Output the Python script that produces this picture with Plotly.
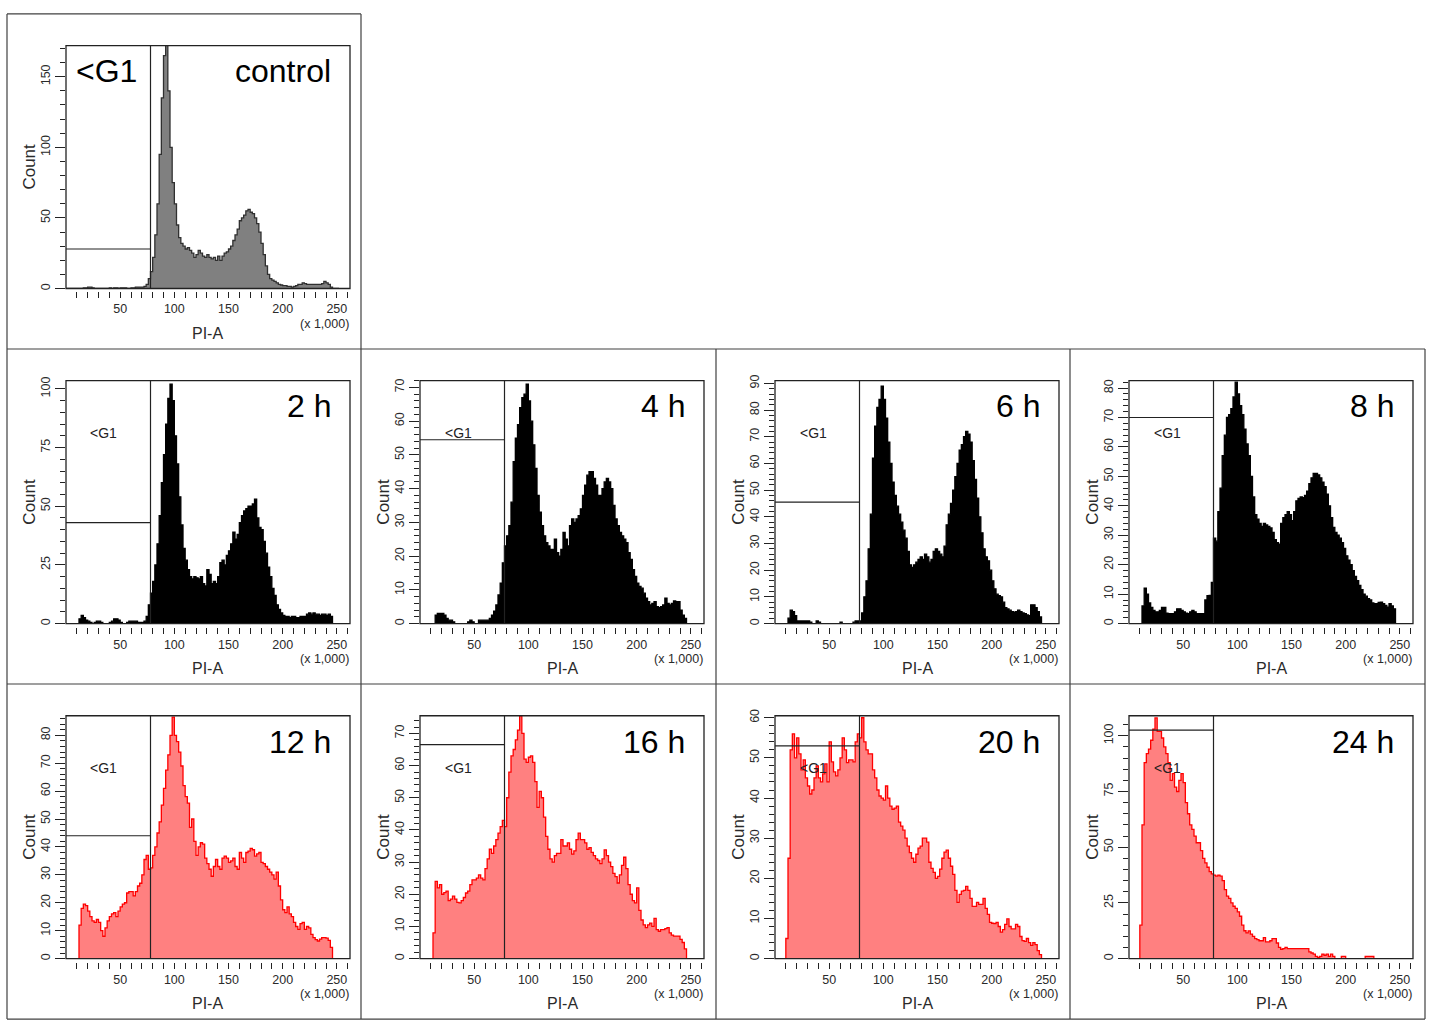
import plotly.graph_objects as go

W, H = 1431, 1028

# ---------------- data (counts per 2k-wide PI-A bin, x in thousands) ----------------
bin_left = list(range(0, 252, 2))  # 0,2,...,250

control = [0,0,0,0,0,0,0,0,0.5,0.5,
           1,1,0.5,0,0,0,0,0,0,0,
           0.5,0,0.5,0.5,0,0.5,0.5,0.5,0,0,
           0.5,0.5,1,1,1,1,1.5,3,7,12,
           22,38,60,95,135,165,178,140,100,75,
           60,45,36,32,30,28,29,27,25,22,
           24,27,25,23,22,24,22,21,22,20,
           23,20,23,25,26,28,30,34,38,42,
           48,50,52,55,56,54,53,50,46,40,
           32,24,16,10,7,6,5,4,3,2.5,
           2,2,1.5,1.5,1,1.5,2,3,3,4,
           3.5,3,3,3,3,3,3,3,3.5,5,
           4,3,1,0,0,0]

h2 = [0,0,0,0,0,0,2,3.5,2.5,1.5,
      1,0.5,0,0.5,1,1,0.5,0,0,0,
      0.5,1,2,2,1.5,0.5,0,0,0.5,1,
      1,1,1,0.5,0.5,0.5,1,3,8,13,
      18,25,34,46,60,72,85,96,102,95,
      80,68,54,42,32,27,23,20,19,20,
      19.5,19,20,17,16,23,21,17,18,17,
      20,26,27,25,29,31,34,39,36,38,
      43,46,48,49,50,50,51,53,45,41,
      40,35,30,24,20,15,12,8,6,4.5,
      3.5,3,3,2.5,3,3,2.5,2.5,3,3,
      3,4,4.5,4,4.5,4,4,3.5,4,4,
      3.5,4,3,0,0,0]

h4 = [0,0,0,0,0,0,0,2.5,3,3,
      3,2.5,1.5,1,1,0.5,0,0,0,0,
      0,0,0.5,1,0.5,0,0,1,1,1,
      1,1,1.5,2.5,3.7,5.5,8.5,12,18,23,
      26,29,36,48,55,59,64,67,68,71,
      66,60,53,46,38,33,29,26,24,23,
      22,22,25,21,20,22,27,25,23,29,
      31,30,31,32,34,38,41,44,45,45,
      43,41,38,38,40,42,43,42,40,35,
      31,29,27,26,25,24,21,19,16,14,
      12,11,10.5,9,7.5,6.5,5.5,6,6.5,5,
      4.7,5,5.5,7.5,6,5.5,6,6.7,6.5,6.5,
      4,2.5,1.5,0,0,0]

h6 = [0,0,0,0,0,0,2,5,4.5,3,
      1,1,1,1,1,1,0.5,0,0,1,
      0.5,0,0,0,0,0,0,0,0,0,
      0.5,0,0,0,0,0,0.5,1,1,1,
      4,10,16,28,41,62,74,81,84,89,
      84,77,68,60,53,48,44,41,38,35,
      32,27,22,21,22,23,24,25,24,26,
      25,23,24,27,28,27,26,25,29,37,
      41,45,50,55,60,65,67,70,72,71,
      68,61,54,47,40,34,28,25,23.5,20,
      16,13,11,10.5,10,8,6,5.5,5,4.5,
      4.3,4.5,5,4.5,4,3.7,3.2,3,7,7,
      6,4.5,2.5,0,0,0]

h8 = [0,0,0,0,0,0,6,12,10,7,
      5.5,4.5,4,4,4.5,5.5,5.5,3.5,3.4,3.4,
      3.4,4,5,5,4.5,4,3.5,3.4,4,4.5,
      4,3.4,3.4,3.4,3.4,8,9.5,9.6,14,29,
      28,38,46,57,64,70,71,73,77,82,
      78,74,71,66,61,57,50,43,37,35.5,
      34,33,34,33.5,33,32.5,31,28.5,27.5,27,
      34,36,37,38,37,35,38,41.7,42.5,43,
      42.8,43.5,45,47.5,49.5,51,51,50.5,49.5,48,
      46.5,44,40,36,32.7,31,30,29,27.5,25.5,
      23,21.5,20,18,16,14.6,13,11.5,10,9.3,
      8.5,8,7,6.8,6.8,7.2,7.3,6.8,6.2,5.6,
      6.8,6,5,0,0,0]

h12 = [0,0,0,0,0,0,12,18,19.5,19,
       17,15,13.5,13,14,13,10,8,11,13.5,
       15,16,16.5,15,17,18.5,19.5,20,23.5,24,
       24,22.5,24,26,27,30,35.5,37,32,32.5,
       37,40,45,49,55,61,67.5,73,80,86.5,
       80,77.7,74,69,62,58,55.7,47,50,42,
       37,40,41.5,41,36,34,32,29.5,33,35.5,
       33,32,36,36.7,36,34.5,35,36,33,32,
       38,36,34.5,38,38.5,39.5,39,36.7,37.5,38,
       34.5,34,33,32,31,30,28.5,31,26,21,
       17.5,16.5,18.5,16,15,13,11.5,10.5,12.5,13,
       10.5,11.5,11,8.7,7.5,6.8,6.3,7,7.5,7.5,
       7.3,6.5,4,0,0,0]

h16 = [0,0,0,0,0,0,8,24,22,23,
       20,20.5,21,18,18.5,19.4,18.5,17.5,17.3,18,
       19,20.4,21,23,24.5,24.5,25,26,25,24.5,
       28,31,34,32.7,35,37,39,41,43,41,
       50,58,63,65,68,71,75.5,70,62,61,
       62.6,63,61,55,47,52,50,44,38,34,
       31,30,32,32.7,32.7,37,35,35,36,34,
       32.5,33.5,37,39,37,37,36,34,34.5,33,
       32,31,30.5,29.5,31,33.8,32,30,28.6,26.5,
       25.5,23.5,26,29,31.5,28,23,20,18,17.3,
       22,15,12,10.5,9.6,10.5,11,10,12.5,9,
       8.5,9,9,9.3,9.6,8,7.3,7,7,7,
       6,5,3,0,0,0]

h20 = [0,0,0,0,0,5,25,52,56,50,
       55,51,47,49.5,45,43,41,42,45,48,
       45,44,46,48.5,44,54,49,46.5,45.5,47,
       50,55,52,48.8,49.5,49.5,49,54,56,55,
       60,54,52,51,51,47,45,42,40.5,40,
       39.5,43,40,38,37.2,37.5,38,34,33,32,
       30,28,26.4,25,24,26,27.5,28,30,30,
       29,24,22.5,21.5,20,20.5,22.3,25,26.5,27,
       25,23,21,17,14,16,16.8,17,18,17,
       15,13,13,14,13.5,13.5,15,12.5,11,9,
       8.8,8.7,9,8,6.6,7.2,8.5,9.9,8,7.4,
       7.4,8.5,8,5.5,4.5,4.3,5,4,3.3,4,
       3.5,2,1,0,0,0]

h24 = [0,0,0,0,0,15,60,88,92,94,
       98,103,108,102,102,99,95,92,88,80,
       83,77,75,80,83,79,70,65,60,58,
       55,52,52,48.5,45,43,41,39,38,37.5,
       37,37.5,37,35,31,28,27,25,23.5,22.5,
       21,19,15,12.5,11.5,12.4,11,10,9,8.5,
       8,8,9.4,7.5,7.5,8,9,9,7,5,
       4.2,4.5,5,4.5,4.5,4.5,4.5,4.5,4.5,4.5,
       4.5,4.5,4.5,3,2.5,2,1,0.5,1,2,
       1.5,2,1,2,1,0,0,0,1,1,
       0,0,0,0,0,0,0,0,0,1,
       1,1,1,0,0,0,0,0,0,0,
       0,0,0,0,0,0]

titles = ["control", "2 h", "4 h", "6 h", "8 h", "12 h", "16 h", "20 h", "24 h"]
all_counts = [control, h2, h4, h6, h8, h12, h16, h20, h24]
y_max = [172, 103.5, 72, 91, 82.5, 87, 75.5, 60.5, 109]
y_major = [50, 25, 10, 10, 10, 10, 10, 10, 25]
y_minor = [10, 5, 2, 2, 2, 2, 2, 2, 5]
gate_height = [28, 43, 54.5, 45.5, 70, 44, 66.5, 53, 102.5]
gate_x = 78
styles = ["gray", "black", "black", "black", "black", "red", "red", "red", "red"]
x_tick_vals = list(range(10, 261, 10))
x_tick_text = [str(v) if v % 50 == 0 else "" for v in x_tick_vals]

# ---------------- layout geometry (pixels, window coordinates) ----------------
origins = [(7, 7), (7, 345), (361, 345), (716, 345), (1070, 345),
           (7, 683), (361, 683), (716, 683), (1070, 683)]
BOX_L, BOX_R, BOX_T, BOX_B = 59, 343, 32, 277
FONT = "Liberation Sans, Arial, sans-serif"
TICKC = "#222222"
TXTC = "#2a2a2a"

style_map = {
    "gray": dict(line="#303030", fill="#808080"),
    "black": dict(line="#000000", fill="#000000"),
    "red": dict(line="#FF0000", fill="#FF8080"),
}

def px(x):
    return x / W

def py(y):
    return 1 - y / H

fig = go.Figure()
shapes = []
annotations = []
layout_axes = {}

for i, (ox, oy) in enumerate(origins):
    n = i + 1
    xs = "" if n == 1 else str(n)
    xname, yname = "x" + xs, "y" + xs
    counts = all_counts[i]
    st = style_map[styles[i]]
    fig.add_trace(go.Scatter(
        x=bin_left + [bin_left[-1] + 2], y=counts + [0],
        mode="lines", line=dict(shape="hv", color=st["line"], width=1.3),
        fill="tozeroy", fillcolor=st["fill"], xaxis=xname, yaxis=yname,
        hoverinfo="skip", showlegend=False))

    layout_axes["xaxis" + xs] = dict(
        domain=[px(ox + BOX_L), px(ox + BOX_R)], range=[0, 262.144],
        anchor="free", position=py(oy + BOX_B + 3), showline=False,
        showgrid=False, zeroline=False, ticks="outside", ticklen=6,
        tickwidth=1, tickcolor=TICKC, tickmode="array",
        tickvals=x_tick_vals, ticktext=x_tick_text,
        tickfont=dict(family=FONT, size=12.5, color=TXTC), fixedrange=True)
    layout_axes["yaxis" + xs] = dict(
        domain=[py(oy + BOX_B), py(oy + BOX_T)], range=[0, y_max[i]],
        anchor=xname, showline=False, showgrid=False, zeroline=False,
        ticks="outside", ticklen=10, tickwidth=1, tickcolor=TICKC,
        tick0=0, dtick=y_major[i], tickangle=-90,
        minor=dict(ticks="outside", ticklen=5, tickwidth=1, tickcolor=TICKC,
                   tick0=0, dtick=y_minor[i], showgrid=False),
        tickfont=dict(family=FONT, size=12.5, color=TXTC), fixedrange=True)

    # plot box
    shapes.append(dict(type="rect", xref=xname + " domain", yref=yname + " domain",
                       x0=0, x1=1, y0=0, y1=1, line=dict(color=TICKC, width=1.3),
                       layer="above"))
    # gate lines
    shapes.append(dict(type="line", xref=xname, yref=yname + " domain",
                       x0=gate_x, x1=gate_x, y0=0, y1=1,
                       line=dict(color=TICKC, width=1.2), layer="above"))
    shapes.append(dict(type="line", xref=xname, yref=yname,
                       x0=0, x1=gate_x, y0=gate_height[i], y1=gate_height[i],
                       line=dict(color=TICKC, width=1.2), layer="above"))

    # texts
    annotations.append(dict(text="Count", x=px(ox + 23), y=py(oy + 154), xref="paper",
                            yref="paper", textangle=-90, showarrow=False,
                            xanchor="center", yanchor="middle",
                            font=dict(family=FONT, size=17, color=TXTC)))
    annotations.append(dict(text="PI-A", x=px(ox + 201), y=py(oy + 322), xref="paper",
                            yref="paper", showarrow=False, xanchor="center",
                            yanchor="middle", font=dict(family=FONT, size=16, color=TXTC)))
    annotations.append(dict(text="(x 1,000)", x=px(ox + 344), y=py(oy + 313), xref="paper",
                            yref="paper", showarrow=False, xanchor="right",
                            yanchor="middle", font=dict(family=FONT, size=12.5, color=TXTC)))
    annotations.append(dict(text=titles[i], x=px(ox + 326), y=py(oy + 58), xref="paper",
                            yref="paper", showarrow=False, xanchor="right",
                            yanchor="middle", font=dict(family=FONT, size=32, color="#000000")))
    if i == 0:
        annotations.append(dict(text="<G1", x=px(ox + 67), y=py(oy + 58), xref="paper",
                                yref="paper", showarrow=False, xanchor="left",
                                yanchor="middle", font=dict(family=FONT, size=32, color="#000000")))
    else:
        annotations.append(dict(text="<G1", x=px(ox + 97), y=py(oy + 85), xref="paper",
                                yref="paper", showarrow=False, xanchor="center",
                                yanchor="middle", font=dict(family=FONT, size=14, color="#222222")))

# panel borders
BC = "#404040"
def pline(x0, y0, x1, y1):
    return dict(type="line", xref="paper", yref="paper", x0=px(x0), x1=px(x1),
                y0=py(y0), y1=py(y1), line=dict(color=BC, width=1.2), layer="above")

shapes += [pline(7, 7, 361, 7), pline(7, 7, 7, 1021), pline(361, 7, 361, 1021),
           pline(7, 345, 1425, 345), pline(7, 683, 1425, 683), pline(7, 1021, 1425, 1021),
           pline(716, 345, 716, 1021), pline(1070, 345, 1070, 1021), pline(1425, 345, 1425, 1021)]

fig.update_layout(width=W, height=H, margin=dict(l=0, r=0, t=0, b=0),
                  paper_bgcolor="white", plot_bgcolor="white", autosize=False,
                  shapes=shapes, annotations=annotations, **layout_axes)

fig.write_html(
    "out.html",
    config={"displayModeBar": False},
    post_script="document.body.style.margin='0';document.body.style.padding='0';"
                "document.documentElement.style.overflow='hidden';",
)
